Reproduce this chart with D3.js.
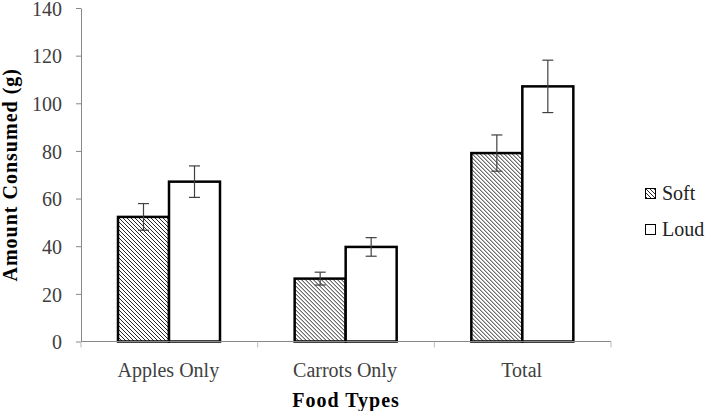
<!DOCTYPE html>
<html><head><meta charset="utf-8">
<script src="https://cdn.jsdelivr.net/npm/d3@7"></script>
<style>body{margin:0;background:#fff}svg{display:block}</style>
</head><body><svg id="c" width="708" height="411"></svg>
<script>
const categories = ["Apples Only", "Carrots Only", "Total"];
const seriesNames = ["Soft", "Loud"];
const softValues = [52.3, 26.4, 79.1];
const loudValues = [67.1, 39.7, 107.1];
const softErrors = [5.6, 2.7, 7.6];
const loudErrors = [6.6, 3.9, 11];
const yTicks = [0, 20, 40, 60, 80, 100, 120, 140];

(function () {
const svg = d3.select("#c");
const font = "'Liberation Serif', 'Times New Roman', serif";
const mLeft = 81, mRight = 611, mTop = 8, mBottom = 341.5;

const defs = svg.append("defs");
const pat = defs.append("pattern").attr("id", "hatch").attr("patternUnits", "userSpaceOnUse")
  .attr("width", 4).attr("height", 4);
pat.append("rect").attr("width", 4).attr("height", 4).attr("fill", "#fff");
pat.append("path").attr("d", "M-1,-1 L5,5 M-1,3 L1,5 M3,-1 L5,1").attr("stroke", "#111").attr("stroke-width", 0.9);

const x0 = d3.scaleBand().domain(categories).range([mLeft, mRight]);
const x1 = d3.scaleBand().domain(seriesNames).range([37, 139]);
const y = d3.scaleLinear().domain([0, 140]).range([mBottom, mTop]);

const data = categories.map((c, i) => ({cat: c, vals: [
  {s: "Soft", v: softValues[i], e: softErrors[i]},
  {s: "Loud", v: loudValues[i], e: loudErrors[i]}]}));

// y axis
const yAxis = svg.append("g").attr("transform", `translate(${mLeft},0)`)
  .call(d3.axisLeft(y).tickValues(yTicks).tickSize(5).tickPadding(14).tickSizeOuter(0));
yAxis.select(".domain").attr("stroke", "#888");
yAxis.selectAll(".tick line").attr("stroke", "#888");
yAxis.selectAll(".tick text").attr("font-family", font).attr("font-size", 20).attr("fill", "#404040").attr("dy", "0.36em");

// bars
const groups = svg.append("g").selectAll("g").data(data).join("g")
  .attr("transform", d => `translate(${x0(d.cat)},0)`);
groups.selectAll("rect").data(d => d.vals).join("rect")
  .attr("x", d => x1(d.s)).attr("width", x1.bandwidth())
  .attr("y", d => y(d.v)).attr("height", d => y(0) - y(d.v))
  .attr("fill", d => d.s === "Soft" ? "url(#hatch)" : "#fff")
  .attr("stroke", "#000").attr("stroke-width", 2.5);

// x axis
const xAxis = svg.append("g").attr("transform", `translate(0,${mBottom})`);
xAxis.append("line").attr("x1", mLeft).attr("x2", mRight).attr("stroke", "#888");
const bounds = categories.map(c => x0(c)).concat([mRight]);
xAxis.selectAll("line.t").data(bounds).join("line").attr("class", "t")
  .attr("x1", d => d).attr("x2", d => d).attr("y1", 0).attr("y2", 6).attr("stroke", "#bbb");
xAxis.selectAll("text").data(categories).join("text")
  .attr("x", d => x0(d) + x0.bandwidth() / 2 - 1).attr("y", 35)
  .attr("text-anchor", "middle").attr("font-family", font).attr("font-size", 20).attr("fill", "#404040")
  .text(d => d);

// error bars
const eb = groups.selectAll("g.err").data(d => d.vals).join("g").attr("class", "err")
  .attr("stroke", "#404040").attr("stroke-width", 1.2);
const cx = d => x1(d.s) + x1.bandwidth() / 2;
eb.append("line").attr("x1", cx).attr("x2", cx).attr("y1", d => y(d.v + d.e)).attr("y2", d => y(d.v - d.e));
eb.append("line").attr("x1", d => cx(d) - 5.5).attr("x2", d => cx(d) + 5.5).attr("y1", d => y(d.v + d.e)).attr("y2", d => y(d.v + d.e));
eb.append("line").attr("x1", d => cx(d) - 5.5).attr("x2", d => cx(d) + 5.5).attr("y1", d => y(d.v - d.e)).attr("y2", d => y(d.v - d.e));

// titles
svg.append("text").attr("transform", `translate(17,${(mTop + mBottom) / 2}) rotate(-90)`)
  .attr("text-anchor", "middle").attr("font-family", font).attr("font-weight", "bold")
  .attr("font-size", 20).attr("letter-spacing", 1).attr("fill", "#000").text("Amount Consumed (g)");
svg.append("text").attr("x", 346).attr("y", 407).attr("text-anchor", "middle")
  .attr("font-family", font).attr("font-weight", "bold").attr("font-size", 20)
  .attr("letter-spacing", 1).attr("fill", "#000").text("Food Types");

// legend
const lg = svg.append("g").selectAll("g").data(seriesNames).join("g")
  .attr("transform", (d, i) => `translate(645,${188 + i * 36})`);
lg.append("rect").attr("x", 0.5).attr("y", 0.5).attr("width", 10).attr("height", 10)
  .attr("fill", d => d === "Soft" ? "url(#hatch)" : "#fff").attr("stroke", "#000").attr("stroke-width", 1);
lg.append("text").attr("x", 17).attr("y", 12).attr("font-family", font).attr("font-size", 20)
  .attr("fill", "#222").text(d => d);
})();
</script></body></html>
